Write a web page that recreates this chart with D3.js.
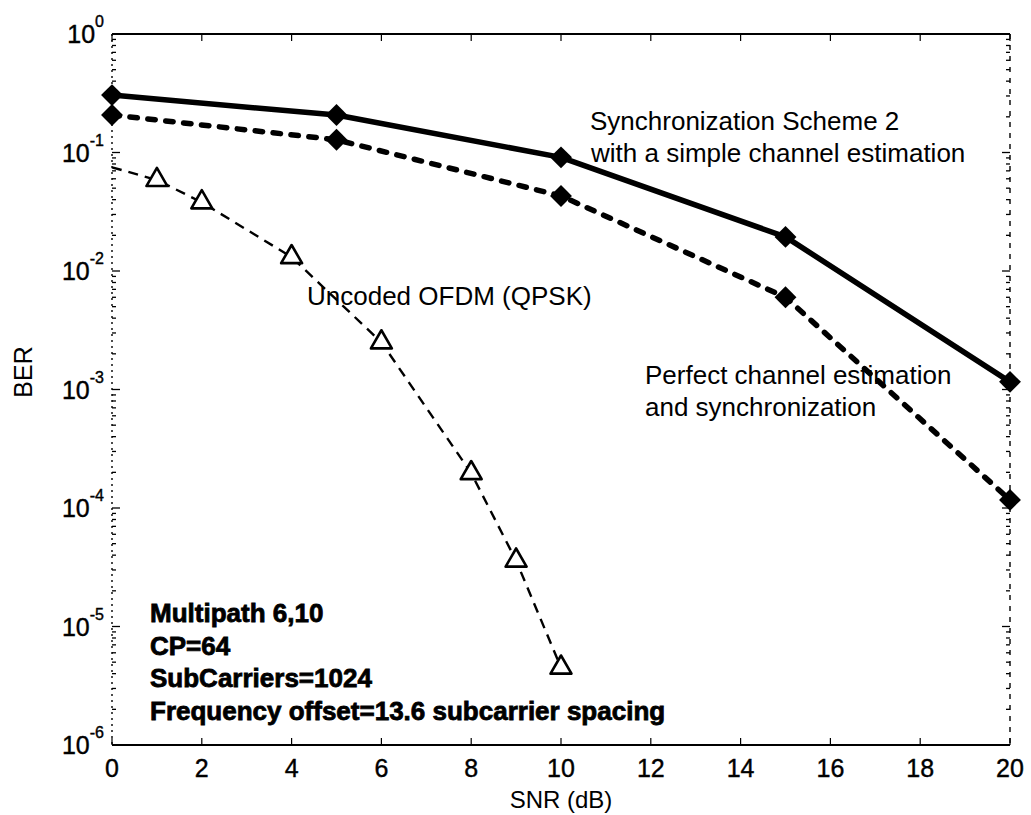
<!DOCTYPE html>
<html>
<head>
<meta charset="utf-8">
<script src="https://cdn.jsdelivr.net/npm/d3@7"></script>
<style>
  body { margin: 0; background: #fff; }
  text { font-family: "Liberation Sans", Arial, sans-serif; fill: #000; }
</style>
</head>
<body>
<div id="chart"></div>
<script>
// values
const snrSync = [0, 5, 10, 15, 20];
const berSync = [0.305, 0.207, 0.091, 0.0194, 0.00116];
const berPerfect = [0.207, 0.128, 0.043, 0.006, 0.000117];
const snrUncoded = [0, 1, 2, 4, 6, 8, 9, 10];
const berUncoded = [0.075, 0.0586, 0.038, 0.0131, 0.0025, 0.000197, 0.000036, 0.0000045];
const xTicks = [0, 2, 4, 6, 8, 10, 12, 14, 16, 18, 20];
const yExponents = [0, -1, -2, -3, -4, -5, -6];
const infoLines = ["Multipath 6,10", "CP=64", "SubCarriers=1024", "Frequency offset=13.6 subcarrier spacing"];

const W = 1031, H = 815;
const margin = {top: 34, right: 21, bottom: 70, left: 112};
const width = W - margin.left - margin.right;
const height = H - margin.top - margin.bottom;

const svg = d3.select("#chart").append("svg")
    .attr("width", W).attr("height", H);
const g = svg.append("g")
    .attr("transform", "translate(" + margin.left + "," + margin.top + ")");

const x = d3.scaleLinear().domain([0, 20]).range([0, width]);
const y = d3.scaleLog().domain([1e-6, 1]).range([height, 0]);

// minor log ticks
const minor = [];
for (let e = -6; e < 0; e++) {
    for (let m = 2; m <= 9; m++) minor.push(m * Math.pow(10, e));
}

// left / right ticks (inward)
[0, width].forEach((xx, i) => {
    const dir = i === 0 ? 1 : -1;
    g.selectAll(null).data(minor).enter().append("line")
        .attr("x1", xx).attr("x2", xx + dir * 4)
        .attr("y1", d => y(d)).attr("y2", d => y(d))
        .attr("stroke", "#000").attr("stroke-width", 1.3);
    g.selectAll(null).data(yExponents).enter().append("line")
        .attr("x1", xx).attr("x2", xx + dir * 8)
        .attr("y1", d => y(Math.pow(10, d))).attr("y2", d => y(Math.pow(10, d)))
        .attr("stroke", "#000").attr("stroke-width", 1.3);
});

// bottom / top ticks
[height, 0].forEach((yy, i) => {
    const dir = i === 0 ? -1 : 1;
    g.selectAll(null).data(xTicks).enter().append("line")
        .attr("x1", d => x(d)).attr("x2", d => x(d))
        .attr("y1", yy).attr("y2", yy + dir * 7)
        .attr("stroke", "#000").attr("stroke-width", 1.2);
});

// frame
g.append("line").attr("x1", 0).attr("x2", width).attr("y1", height).attr("y2", height)
    .attr("stroke", "#000").attr("stroke-width", 2.2);
g.append("line").attr("x1", 0).attr("x2", width).attr("y1", 0).attr("y2", 0)
    .attr("stroke", "#000").attr("stroke-width", 2);
g.append("line").attr("x1", 0).attr("x2", 0).attr("y1", 0).attr("y2", height)
    .attr("stroke", "#000").attr("stroke-width", 1.4).attr("stroke-dasharray", "2,4");
g.append("line").attr("x1", width).attr("x2", width).attr("y1", 0).attr("y2", height)
    .attr("stroke", "#000").attr("stroke-width", 1.4).attr("stroke-dasharray", "5,6");

// x tick labels
g.selectAll(null).data(xTicks).enter().append("text")
    .attr("x", d => x(d)).attr("y", height + 32)
    .attr("text-anchor", "middle").attr("font-size", 25)
    .attr("stroke", "#000").attr("stroke-width", 0.4)
    .text(d => d);

// y tick labels 10^e
const yl = g.selectAll(null).data(yExponents).enter().append("text")
    .attr("x", -8).attr("y", d => y(Math.pow(10, d)) + 9)
    .attr("text-anchor", "end").attr("font-size", 25)
    .attr("stroke", "#000").attr("stroke-width", 0.4);
yl.append("tspan").text("10");
yl.append("tspan").attr("dy", -16).attr("font-size", 16).text(d => d === 0 ? "0" : d);

// axis titles
svg.append("text")
    .attr("x", margin.left + x(10)).attr("y", 808)
    .attr("text-anchor", "middle").attr("font-size", 24)
    .text("SNR (dB)");
svg.append("text")
    .attr("transform", "translate(32,372) rotate(-90)")
    .attr("text-anchor", "middle").attr("font-size", 25)
    .text("BER");

// lines
const line = d3.line().x(d => x(d[0])).y(d => y(d[1]));
const syncPts = snrSync.map((s, i) => [s, berSync[i]]);
const perfPts = snrSync.map((s, i) => [s, berPerfect[i]]);
const uncPts = snrUncoded.map((s, i) => [s, berUncoded[i]]);

g.append("path").attr("d", line(uncPts))
    .attr("fill", "none").attr("stroke", "#000").attr("stroke-width", 2.4)
    .attr("stroke-dasharray", "10,7");
g.append("path").attr("d", line(perfPts))
    .attr("fill", "none").attr("stroke", "#000").attr("stroke-width", 5.5)
    .attr("stroke-linecap", "round")
    .attr("stroke-dasharray", "7.5,10.5");
g.append("path").attr("d", line(syncPts))
    .attr("fill", "none").attr("stroke", "#000").attr("stroke-width", 5.5)
    .attr("stroke-linejoin", "round");

// diamond markers
const diamond = d3.symbol().type(d3.symbolSquare).size(240);
g.selectAll(null).data(syncPts.concat(perfPts)).enter().append("path")
    .attr("d", diamond)
    .attr("transform", d => "translate(" + x(d[0]) + "," + y(d[1]) + ") rotate(45)")
    .attr("fill", "#000");

// triangle markers (no marker at 0 dB)
const tri = d3.symbol().type(d3.symbolTriangle).size(190);
g.selectAll(null).data(uncPts.slice(1)).enter().append("path")
    .attr("d", tri)
    .attr("transform", d => "translate(" + x(d[0]) + "," + y(d[1]) + ")")
    .attr("fill", "#fff").attr("stroke", "#000").attr("stroke-width", 2.6)
    .attr("stroke-linejoin", "round");

// annotations
const ann = [
    {t: "Synchronization Scheme 2", x: 590, y: 130},
    {t: "with a simple channel estimation", x: 591, y: 162},
    {t: "Perfect channel estimation", x: 645, y: 384},
    {t: "and synchronization", x: 645, y: 416},
    {t: "Uncoded OFDM (QPSK)", x: 307, y: 305}
];
svg.selectAll(null).data(ann).enter().append("text")
    .attr("x", d => d.x).attr("y", d => d.y)
    .attr("font-size", 26)
    .text(d => d.t);

svg.selectAll(null).data(infoLines).enter().append("text")
    .attr("x", 150).attr("y", (d, i) => 622 + i * 32.7)
    .attr("font-size", 26).attr("font-weight", "bold")
    .attr("stroke", "#000").attr("stroke-width", 0.8)
    .text(d => d);
</script>
</body>
</html>
